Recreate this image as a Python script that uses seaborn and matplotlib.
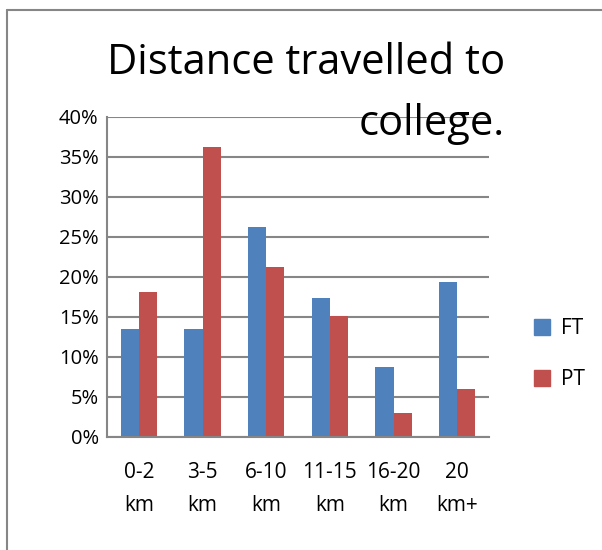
import numpy as np
import pandas as pd
import matplotlib.pyplot as plt
import seaborn as sns
from matplotlib.lines import Line2D

# distance bands and share of students (percent)
categories = ["0-2\nkm", "3-5\nkm", "6-10\nkm", "11-15\nkm", "16-20\nkm", "20\nkm+"]
ft_values = [13.5, 13.5, 26.2, 17.4, 8.7, 19.4]
pt_values = [18.1, 36.3, 21.2, 15.1, 3.0, 6.0]
series = ["FT", "PT"]

df = pd.DataFrame({
    "band": categories * 2,
    "pct": ft_values + pt_values,
    "mode": ["FT"] * len(categories) + ["PT"] * len(categories),
})

sns.set_style("white")
plt.rcParams["font.family"] = ["Open Sans", "DejaVu Sans"]
plt.rcParams["text.color"] = "black"
plt.rcParams["xtick.color"] = "black"
plt.rcParams["ytick.color"] = "black"

fig = plt.figure(figsize=(6.02, 5.5), dpi=100)
ax = fig.add_axes([107 / 602, 1 - 437 / 550, (489 - 107) / 602, 320 / 550])

sns.barplot(data=df, x="band", y="pct", hue="mode", hue_order=series,
            palette=["#4F81BD", "#C0504D"], width=0.57, saturation=1,
            linewidth=0, edgecolor="none", ax=ax, legend=False)

ax.set_ylim(0, 40)
ax.set_yticks(np.arange(0, 41, 5))
ax.set_yticklabels([f"{v}%" for v in range(0, 41, 5)], fontsize=14.5)
ax.set_xticks(range(len(categories)))
ax.set_xticklabels(categories, fontsize=15, linespacing=1.75)
ax.tick_params(axis="both", length=0, pad=6)
ax.tick_params(axis="x", pad=18)
ax.set_xlabel("")
ax.set_ylabel("")
ax.grid(axis="y", color="#868686", linewidth=1.5)
ax.set_axisbelow(True)
for side in ["top", "right"]:
    ax.spines[side].set_visible(False)
for side in ["left", "bottom"]:
    ax.spines[side].set_color("#868686")
    ax.spines[side].set_linewidth(1.5)

handles = [plt.Rectangle((0, 0), 1, 1, color=c) for c in ["#4F81BD", "#C0504D"]]
fig.legend(handles, series, loc="center left", bbox_to_anchor=(515 / 602, 1 - 354 / 550),
           frameon=False, fontsize=15, handlelength=0.8, handleheight=0.8,
           labelspacing=1.45, handletextpad=0.5)

fig.text(306 / 602, 1 - 63 / 550, "Distance travelled to", fontsize=30,
         ha="center", va="center")
fig.text(505 / 602, 1 - 124 / 550, "college.", fontsize=30,
         ha="right", va="center")

# chart area border (left and top visible)
fig.add_artist(Line2D([7 / 602, 7 / 602], [0, 1 - 10 / 550], transform=fig.transFigure,
                      color="#868686", linewidth=1.5))
fig.add_artist(Line2D([7 / 602, 1], [1 - 10 / 550, 1 - 10 / 550], transform=fig.transFigure,
                      color="#868686", linewidth=1.5))

fig.savefig("out.png", dpi=100)
